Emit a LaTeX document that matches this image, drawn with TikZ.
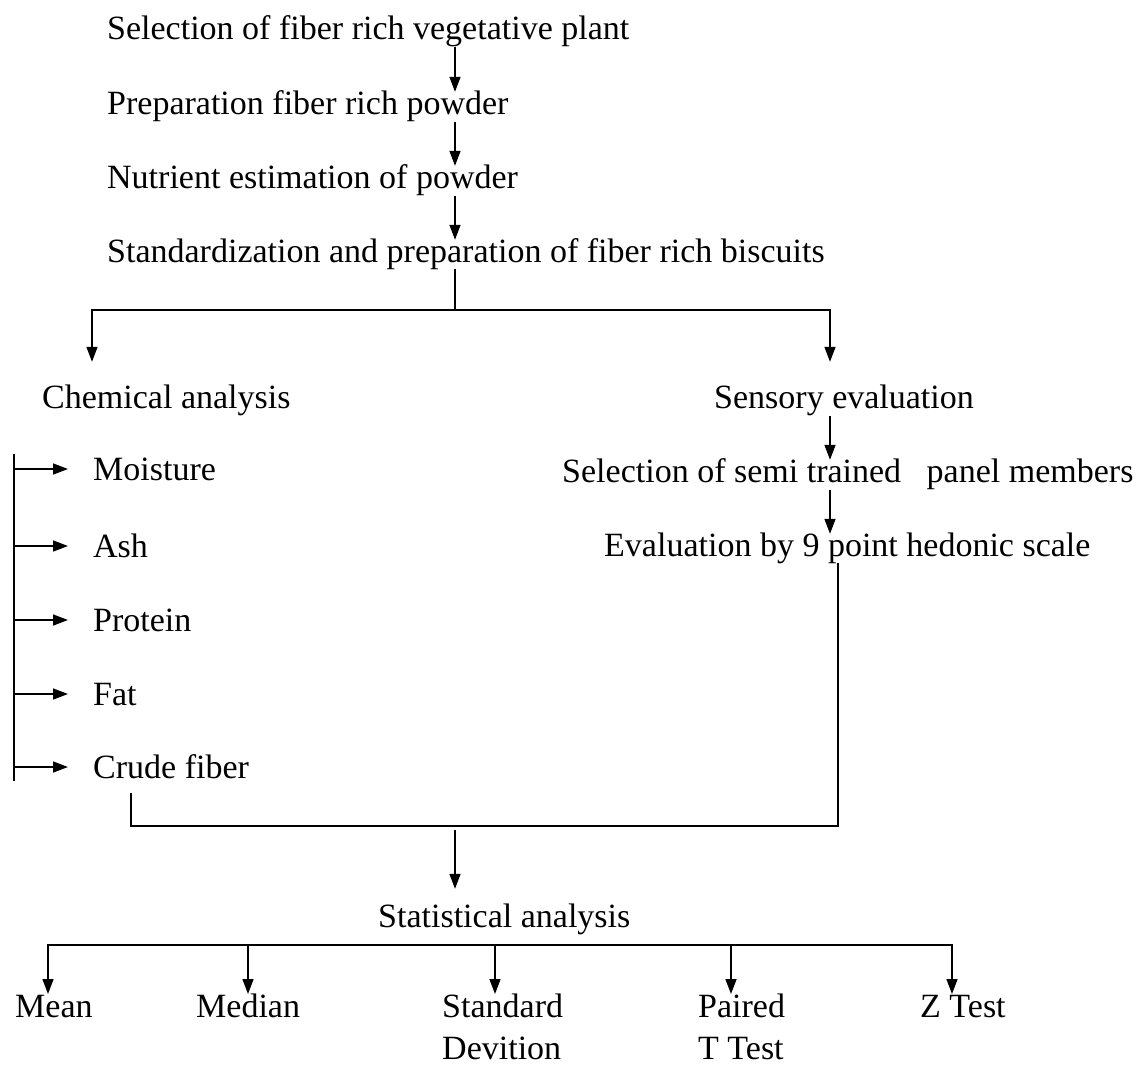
\documentclass[tikz,border=0pt]{standalone}
\usepackage{fontspec}
\setmainfont{Liberation Serif}
\usetikzlibrary{arrows.meta,positioning,calc}
\tikzset{
  txt/.style={anchor=west, inner sep=0pt, font=\fontsize{34}{46}\selectfont,
              text height=22pt, text depth=8pt},
  leaf/.style={anchor=north west, inner sep=0pt, align=left,
               font=\fontsize{34}{42}\selectfont},
  link/.style={line width=1.5pt, line cap=rect},
  flow/.style={-{Triangle[length=15pt,width=11pt]}, line width=1.5pt}
}

\begin{document}
\begin{tikzpicture}[x=1pt, y=-1pt]
\useasboundingbox (0,0) rectangle (1141,1066);
% preparation chain
\node[txt] (plant) at (107,32) {Selection of fiber rich vegetative plant};
\node[txt] (powder) at (107,107) {Preparation fiber rich powder};
\node[txt] (nutrient) at (107,181) {Nutrient estimation of powder};
\node[txt] (biscuit) at (107,255) {Standardization and preparation of fiber rich biscuits};
\coordinate (spine) at (455,0);
\draw[flow] (plant.south -| spine) -- (powder.north -| spine);
\draw[flow] (powder.south -| spine) -- (nutrient.north -| spine);
\draw[flow] (nutrient.south -| spine) -- (biscuit.north -| spine);
% split into the two analyses
\node[txt] (chem) at (42,401) {Chemical analysis};
\node[txt] (sens) at (714,401) {Sensory evaluation};
\coordinate (split) at (455,310);
\coordinate (chemcol) at (92,0);
\coordinate (senscol) at (830,0);
\draw[link] (biscuit.south -| split) -- (split);
\draw[flow, shorten >=24pt] (split) -| (chem.north -| chemcol);
\draw[flow, shorten >=24pt] (split) -| (sens.north -| senscol);
% chemical analysis items
\coordinate (bartop) at (14,455);
\coordinate (barbot) at (14,780);
\draw[link] (bartop) -- (barbot);
\foreach \name/\lbl/\y in {moist/Moisture/473, ash/Ash/550, prot/Protein/624,
                          fat/Fat/698, crude/Crude fiber/771}{
  \node[txt] (\name) at (93,\y) {\lbl};
  \draw[flow] ([yshift=4pt]\name.west -| bartop) -- ([xshift=-25pt,yshift=4pt]\name.west);
}
% sensory evaluation chain
\node[txt] (panel) at (562,475) {Selection of semi trained~~~panel members};
\node[txt] (hedonic) at (604,549) {Evaluation by 9 point hedonic scale};
\draw[flow] (sens.south -| senscol) -- (panel.north -| senscol);
\draw[flow] (panel.south -| senscol) -- (hedonic.north -| senscol);
% merge into statistics
\node[txt] (stat) at (378,920) {Statistical analysis};
\coordinate (merge) at (455,826);
\coordinate (chemout) at (131,0);
\coordinate (sensout) at (838,0);
\draw[link, shorten <=8pt] (crude.south -| chemout) |- (merge -| sensout)
  -- (hedonic.south -| sensout);
\draw[flow, shorten <=4pt, shorten >=16pt] (merge) -- (stat.north -| merge);
% statistical tests
\foreach \name/\x/\l/\lbl in {mean/48/15/Mean, median/248/196/Median,
    sd/495/442/{Standard\\Devition}, ttest/731/698/{Paired\\T Test},
    ztest/952/920/Z Test}{
  \node[leaf] (\name) at (\l,994) {\vphantom{d}\lbl};
  \coordinate (c\name) at (\x,945);
  \draw[flow] (c\name) -- (\name.north -| c\name);
}
\draw[link] (cmean) -- (cztest);
\end{tikzpicture}
\end{document}
